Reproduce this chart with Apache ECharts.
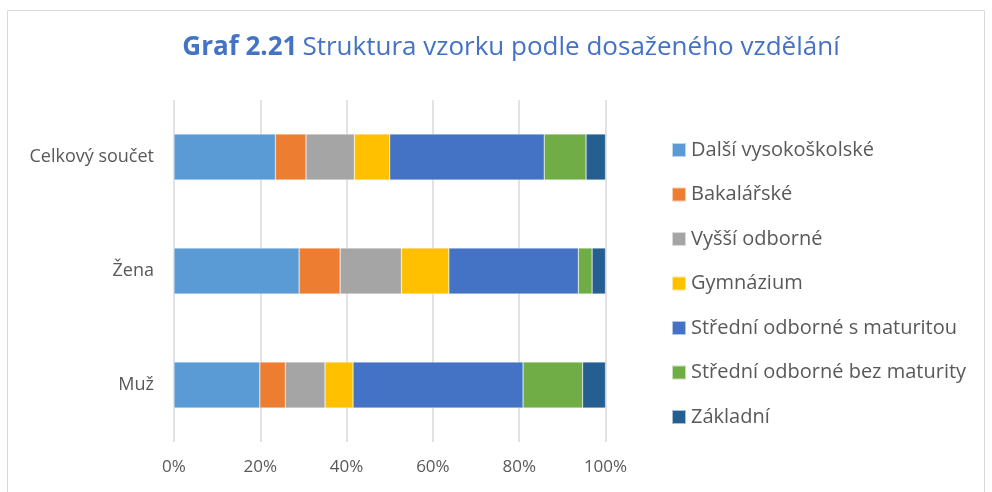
<!DOCTYPE html>
<html>
<head>
<meta charset="utf-8">
<script src="https://cdn.jsdelivr.net/npm/echarts@6/dist/echarts.min.js"></script>
<style>
  html, body { margin: 0; padding: 0; background: #fff; }
  #chart { width: 992px; height: 492px; }
</style>
</head>
<body>
<div id="chart"></div>
<script>
// kategorie odspodu nahoru
var categories = ['Muž', 'Žena', 'Celkový součet'];
var seriesNames = ['Další vysokoškolské', 'Bakalářské', 'Vyšší odborné', 'Gymnázium',
  'Střední odborné s maturitou', 'Střední odborné bez maturity', 'Základní'];
var dalsiVS = [19.9, 29.0, 23.5];
var bakalarske = [5.9, 9.5, 7.1];
var vyssiOdb = [9.2, 14.2, 11.2];
var gymnazium = [6.5, 11.0, 8.2];
var sosMaturita = [39.4, 30.0, 35.8];
var sosBezMat = [13.8, 3.2, 9.7];
var zakladni = [5.3, 3.1, 4.5];
var xTicks = [0, 20, 40, 60, 80, 100];

var colors = ['#5B9BD5', '#ED7D31', '#A5A5A5', '#FFC000', '#4472C4', '#70AD47', '#255E91'];
var values = [dalsiVS, bakalarske, vyssiOdb, gymnazium, sosMaturita, sosBezMat, zakladni];

var font = '"Open Sans", "Noto Sans", sans-serif';
var chart = echarts.init(document.getElementById('chart'));

var series = seriesNames.map(function (name, i) {
  return {
    name: name,
    type: 'bar',
    stack: 'total',
    barWidth: 46,
    data: values[i],
    itemStyle: { color: colors[i], borderColor: 'rgba(255,255,255,0.6)', borderWidth: 0.5 }
  };
});

chart.setOption({
  animation: false,
  color: colors,
  graphic: [{
    type: 'rect',
    shape: { x: 7.5, y: 10.5, width: 977, height: 490 },
    style: { fill: 'none', stroke: '#d9d9d9', lineWidth: 1 },
    silent: true
  }],
  title: {
    text: '{b|Graf 2.21} {n|Struktura vzorku podle dosaženého vzdělání}',
    left: 506,
    textAlign: 'center',
    top: 30,
    textStyle: {
      fontWeight: 'normal',
      rich: {
        b: { fontFamily: font, fontSize: 26, fontWeight: 'bold', color: '#4472C4' },
        n: { fontFamily: font, fontSize: 26, fontWeight: 'normal', color: '#4472C4' }
      }
    }
  },
  legend: {
    orient: 'vertical',
    left: 671,
    top: 140,
    padding: 0,
    itemWidth: 14,
    itemHeight: 14,
    itemGap: 24.5,
    icon: 'rect',
    data: seriesNames,
    textStyle: { fontFamily: font, fontSize: 20, color: '#595959' }
  },
  grid: { left: 174, right: 386.5, top: 100, bottom: 50 },
  xAxis: {
    type: 'value',
    min: 0,
    max: 100,
    interval: 20,
    axisLine: { show: false },
    axisTick: { show: false },
    splitLine: { lineStyle: { color: '#d9d9d9', width: 1.5 } },
    axisLabel: {
      formatter: function (v) { return xTicks.indexOf(v) >= 0 ? v + '%' : ''; },
      fontFamily: font, fontSize: 17, color: '#595959', margin: 17
    }
  },
  yAxis: {
    type: 'category',
    data: categories,
    axisLine: { show: false },
    axisTick: { show: false },
    axisLabel: { fontFamily: font, fontSize: 18, color: '#595959', margin: 20 }
  },
  series: series
});
</script>
</body>
</html>
